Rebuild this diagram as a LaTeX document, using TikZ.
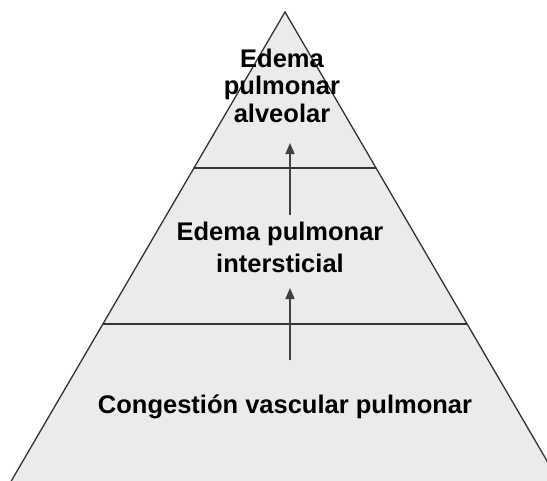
\documentclass[tikz,border=0pt]{standalone}
\usepackage{fontspec}
\setmainfont{Liberation Sans}
\usetikzlibrary{arrows.meta}
\begin{document}
\begin{tikzpicture}[x=1pt,y=-1pt,
  edge/.style={draw=black!80, line width=1.3pt},
  pyrfill/.style={fill=black!8},
  uparrow/.style={draw=black!75, line width=1.6pt, -{Triangle[length=11pt,width=9pt]}},
  lbl/.style={font=\bfseries\fontsize{25.5}{28}\selectfont, align=center, text=black, inner sep=0pt}]
\useasboundingbox (0,0) rectangle (547,480);
\clip (0,0) rectangle (547,480);
\fill[white] (0,0) rectangle (547,480);
\coordinate (apex) at (285,12);
\coordinate (bl) at (6,490);
\coordinate (br) at (564,490);
\path[pyrfill] (apex) -- (br) -- (bl) -- cycle;
\draw[edge] (bl) -- (apex) -- (br);
\coordinate (d1l) at (194,168);
\coordinate (d1r) at (376,168);
\coordinate (d2l) at (103,324);
\coordinate (d2r) at (467,324);
\draw[edge, line width=1.2pt] (d1l) -- (d1r);
\draw[edge, line width=1.2pt] (d2l) -- (d2r);
\node[lbl, anchor=base, font=\bfseries\fontsize{25.5}{27.5}\selectfont] (top) at (282,122) {Edema\\pulmonar\\alveolar};
\node[lbl, anchor=base, font=\bfseries\fontsize{25.5}{32}\selectfont] (mid) at (280,272) {Edema pulmonar\\intersticial};
\node[lbl, anchor=base] (bot) at (285,413) {Congestión vascular pulmonar};
\coordinate (a1s) at (290,215);
\coordinate (a1e) at (290,143);
\coordinate (a2s) at (290,360);
\coordinate (a2e) at (290,288);
\draw[uparrow] (a1s) -- (a1e);
\draw[uparrow] (a2s) -- (a2e);
\end{tikzpicture}
\end{document}
